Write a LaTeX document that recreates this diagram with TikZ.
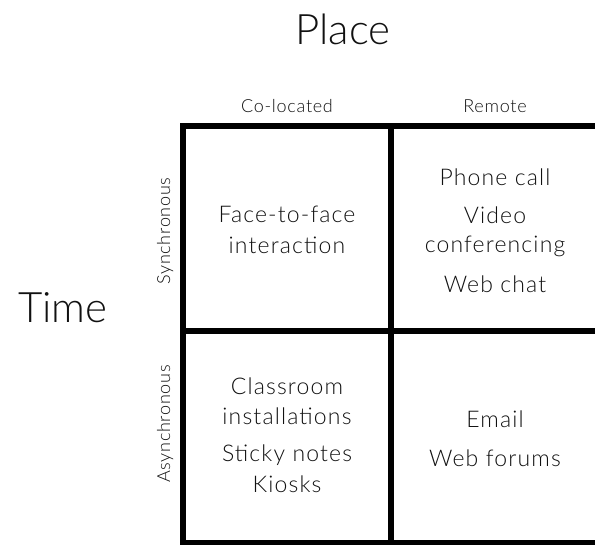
\documentclass[tikz,border=0pt]{standalone}
\usepackage{fontspec}
\setmainfont{Lato Light}
\definecolor{txt}{HTML}{111111}
\begin{document}
\begin{tikzpicture}[x=1pt,y=-1pt,
  grid/.style={line width=6pt,black},
  big/.style={font=\fontsize{42}{44}\selectfont,text=txt,inner sep=0pt,anchor=base},
  head/.style={font=\fontsize{18}{20}\selectfont\addfontfeature{LetterSpace=4},text=txt,inner sep=0pt,anchor=base},
  cell/.style={font=\fontsize{23}{26}\selectfont\addfontfeature{LetterSpace=5},text=txt,inner sep=0pt,anchor=base}]
\useasboundingbox (0,0) rectangle (595,545);
\clip (0,0) rectangle (595,545);
\coordinate (tl) at (183,126);
\coordinate (br) at (612,543);
\coordinate (mt) at (391,126);
\coordinate (mb) at (391,550);
\coordinate (ml) at (183,331);
\coordinate (mr) at (612,331);
\draw[grid] (tl) rectangle (br);
\draw[grid] (mt) -- (mb);
\draw[grid] (ml) -- (mr);
\node[big] (place) at (343,45) {Place};
\node[big] (time) at (63,323) {Time};
\node[head] (colo) at (287,113) {Co-located};
\node[head] (rem) at (495,113) {Remote};
\node[head,rotate=90] (sync) at (170,231) {Synchronous};
\node[head,rotate=90] (async) at (170,424) {Asynchronous};
\node[cell] (c11a) at (287,223) {Face-to-face};
\node[cell] (c11b) at (287,254) {interaction};
\node[cell] (c12a) at (495,186) {Phone call};
\node[cell] (c12b) at (495,224) {Video};
\node[cell] (c12c) at (495,253) {conferencing};
\node[cell] (c12d) at (495,293) {Web chat};
\node[cell] (c21a) at (287,395) {Classroom};
\node[cell] (c21b) at (287,425) {installations};
\node[cell] (c21c) at (287,462) {Sticky notes};
\node[cell] (c21d) at (287,493) {Kiosks};
\node[cell] (c22a) at (495,428) {Email};
\node[cell] (c22b) at (495,467) {Web forums};
\end{tikzpicture}
\end{document}
